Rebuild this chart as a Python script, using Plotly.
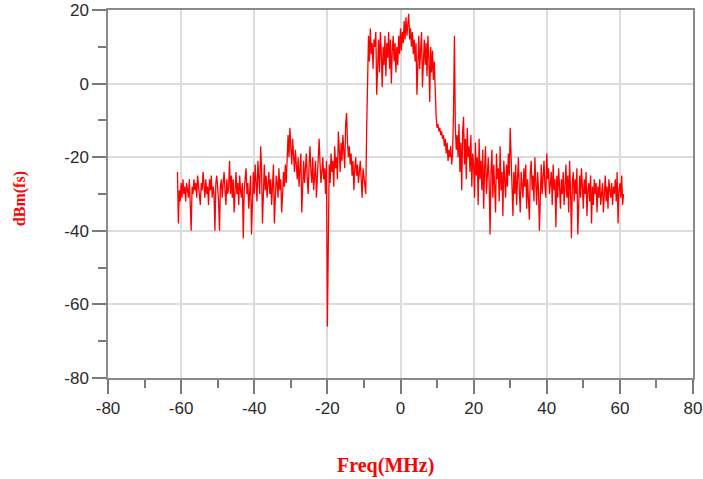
import plotly.graph_objects as go

# Frequency grid: -61 MHz to 61 MHz in 0.25 MHz steps (489 samples)
freq_start = -61.0
freq_step = 0.25

# Spectrum values (dBm(fs)), in 5 MHz segments
seg_01 = [-24, -38, -29, -32, -27, -31, -26, -30, -28, -32, -27, -29, -31, -26, -34, -40, -28, -30, -26, -29]
seg_02 = [-27, -31, -25, -28, -30, -33, -27, -29, -24, -28, -31, -26, -30, -28, -33, -26, -29, -25, -31, -28]
seg_03 = [-30, -40, -27, -25, -29, -32, -40, -28, -26, -31, -27, -24, -29, -33, -26, -30, -28, -21, -30, -25]
seg_04 = [-31, -26, -35, -28, -24, -30, -27, -33, -25, -29, -31, -27, -42, -29, -26, -23, -30, -27, -34, -28]
seg_05 = [-25, -41, -28, -24, -30, -22, -27, -32, -21, -26, -30, -17, -23, -38, -27, -22, -29, -25, -31, -27]
seg_06 = [-24, -30, -26, -33, -28, -22, -38, -29, -25, -27, -31, -23, -29, -26, -35, -30, -24, -28, -22, -27]
seg_07 = [-18, -14, -20, -12, -17, -22, -15, -19, -24, -18, -21, -26, -20, -28, -23, -19, -35, -25, -21, -27]
seg_08 = [-23, -19, -26, -30, -22, -17, -24, -27, -20, -29, -25, -21, -31, -24, -19, -15, -22, -27, -24, -20]
seg_09 = [-26, -23, -30, -21, -66, -34, -22, -27, -19, -24, -21, -28, -17, -23, -20, -26, -13, -18, -24, -16]
seg_10 = [-21, -14, -19, -23, -11, -8, -16, -20, -17, -22, -19, -25, -21, -29, -23, -20, -25, -22, -27, -24]
seg_11 = [-21, -26, -31, -23, -25, -28, -30, -12, 9, 13, 6, 15, 8, 11, 4, 12, 10, 14, -3, 7]
seg_12 = [12, 3, 14, 8, -1, 10, 5, 13, 2, 11, 7, 14, 4, 12, 0, 9, 13, 6, 11, 3]
seg_13 = [10, 5, 13, 8, 15, 9, 14, 11, 17, 12, 18, 13, 16, 19, 12, 15, 10, 14, 8, 12]
seg_14 = [6, 11, -3, 8, 13, 4, 10, 14, -1, 9, 12, 5, 11, 2, 13, 7, -5, 10, 3, 9]
seg_15 = [1, 6, -4, -9, -12, -11, -13, -12, -14, -13, -15, -14, -17, -15, -19, -16, -21, -18, -20, -17]
seg_16 = [-22, -19, -8, 13, -12, -18, -14, -20, -11, -24, -16, -29, -13, -9, -22, -15, -26, -12, -20, -17]
seg_17 = [-24, -14, -28, -19, -22, -31, -16, -25, -20, -33, -15, -26, -21, -29, -18, -34, -23, -17, -30, -25]
seg_18 = [-20, -27, -41, -24, -18, -31, -22, -28, -35, -19, -26, -23, -32, -17, -29, -24, -36, -21, -27, -31]
seg_19 = [-22, -28, -19, -25, -12, -20, -27, -36, -24, -30, -22, -33, -26, -20, -29, -35, -24, -27, -31, -23]
seg_20 = [-28, -22, -34, -26, -30, -37, -24, -21, -29, -25, -32, -20, -27, -33, -24, -29, -40, -26, -22, -30]
seg_21 = [-25, -21, -28, -31, -19, -26, -23, -30, -27, -24, -33, -22, -29, -26, -39, -25, -31, -23, -28, -34]
seg_22 = [-26, -30, -24, -33, -28, -22, -31, -25, -35, -21, -29, -42, -27, -24, -32, -26, -30, -23, -41, -28]
seg_23 = [-25, -31, -23, -28, -34, -26, -30, -24, -36, -29, -27, -32, -25, -38, -28, -33, -26, -30, -27, -35]
seg_24 = [-28, -31, -26, -33, -29, -27, -35, -30, -25, -32, -28, -34, -26, -29, -31, -27, -33, -28, -30, -26]
seg_25 = [-32, -24, -38, -29, -27, -31, -25, -33, -30]

x_ticks = [-80, -60, -40, -20, 0, 20, 40, 60, 80]
x_tick_labels = ["-80", "-60", "-40", "-20", "0", "20", "40", "60", "80"]
y_ticks = [-80, -60, -40, -20, 0, 20]
y_tick_labels = ["-80", "-60", "-40", "-20", "0", "20"]

power = (seg_01 + seg_02 + seg_03 + seg_04 + seg_05 + seg_06 + seg_07 + seg_08 + seg_09 + seg_10 +
         seg_11 + seg_12 + seg_13 + seg_14 + seg_15 + seg_16 + seg_17 + seg_18 + seg_19 + seg_20 +
         seg_21 + seg_22 + seg_23 + seg_24 + seg_25)
freq = [freq_start + freq_step * i for i in range(len(power))]

fig = go.Figure()
fig.add_trace(go.Scatter(x=freq, y=power, mode="lines",
                         line=dict(color="#ff0000", width=1.3), showlegend=False))

tick_font = dict(family="Liberation Sans, Arial, sans-serif", size=17, color="#2a2a2a")
axis_common = dict(
    showline=True, linecolor="#8a8a8a", linewidth=1.5, mirror=True,
    ticks="outside", ticklen=14, tickwidth=1.5, tickcolor="#7a7a7a",
    showgrid=True, gridcolor="#dcdcdc", gridwidth=1.5,
    zeroline=False, tickfont=tick_font, automargin=False, ticklabeloverflow="allow",
    minor=dict(ticks="outside", ticklen=8, tickwidth=1.5, tickcolor="#7a7a7a", showgrid=False),
)

fig.update_xaxes(range=[-80, 80], tickvals=x_ticks, ticktext=x_tick_labels, minor_dtick=10, **axis_common)
fig.update_yaxes(range=[-80, 20], tickvals=y_ticks, ticktext=y_tick_labels, minor_dtick=10, **axis_common)

fig.add_annotation(text="<b>Freq(MHz)</b>", xref="paper", yref="paper", x=0.474, y=0,
                   yshift=-87, showarrow=False, xanchor="center", yanchor="middle",
                   font=dict(family="Liberation Serif, Times New Roman, serif", size=20, color="#ff0000"))
fig.add_annotation(text="<b>dBm(fs)</b>", xref="paper", yref="paper", x=0, y=0.486,
                   xshift=-88, textangle=-90, showarrow=False, xanchor="center", yanchor="middle",
                   font=dict(family="Liberation Serif, Times New Roman, serif", size=16, color="#ff0000"))

fig.update_layout(
    width=703, height=479,
    margin=dict(l=108, r=10, t=10, b=101, pad=0),
    paper_bgcolor="white", plot_bgcolor="white",
)

# Remove the page's default body margin so the figure fills the window exactly
fig.write_html("out.html", config={"displayModeBar": False},
               post_script="document.body.style.margin='0px';document.body.style.overflow='hidden';")
